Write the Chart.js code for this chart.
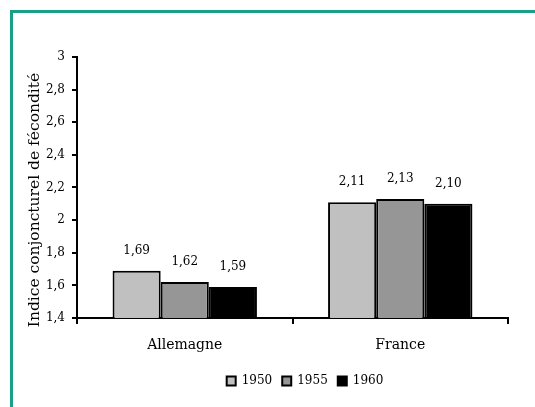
<!DOCTYPE html>
<html>
<head>
<meta charset="utf-8">
<script src="https://cdn.jsdelivr.net/npm/chart.js@4/dist/chart.umd.min.js"></script>
<style>
  html, body { margin: 0; padding: 0; background: #fff; }
  canvas { display: block; }
</style>
</head>
<body>
<canvas id="chart" width="535" height="407"></canvas>
<script>
// Données
const categories = ["Allemagne", "France"];
const years = ["1950", "1955", "1960"];
const values1950 = [1.69, 2.11];
const values1955 = [1.62, 2.13];
const values1960 = [1.59, 2.10];
const yTitle = "Indice conjoncturel de fécondité";

const FONT = "'DejaVu Serif', serif";

function fmt(v, digits) {
    return v.toFixed(digits).replace(".", ",");
}

// fond blanc + cadre vert + titre de l'axe + étiquettes des valeurs
const decorPlugin = {
    id: "decor",
    beforeDraw(chart) {
        const ctx = chart.ctx;
        ctx.save();
        ctx.fillStyle = "#fff";
        ctx.fillRect(0, 0, chart.width, chart.height);
        ctx.fillStyle = "#17a085";
        ctx.fillRect(10, 10, chart.width - 10, 3);
        ctx.fillRect(10, 10, 3, chart.height - 10);
        ctx.restore();
    },
    afterLayout(chart) {
        // légende décalée à droite comme sur l'original
        chart.legend.left += 51;
        chart.legend.right += 51;
    },
    afterDraw(chart) {
        const ctx = chart.ctx;
        ctx.save();
        ctx.fillStyle = "#000";
        ctx.font = "15.5px " + FONT;
        ctx.textAlign = "center";
        ctx.textBaseline = "middle";
        ctx.translate(35, 200);
        ctx.rotate(-Math.PI / 2);
        ctx.fillText(yTitle, 0, 0);
        ctx.restore();

        ctx.save();
        ctx.fillStyle = "#000";
        ctx.font = "12px " + FONT;
        ctx.textAlign = "center";
        ctx.textBaseline = "middle";
        chart.data.datasets.forEach((ds, i) => {
            const meta = chart.getDatasetMeta(i);
            meta.data.forEach((bar, j) => {
                ctx.fillText(fmt(ds.data[j], 2), bar.x, bar.y - 20);
            });
        });
        ctx.restore();
    }
};

const ctx = document.getElementById("chart").getContext("2d");

new Chart(ctx, {
    type: "bar",
    data: {
        labels: categories,
        datasets: [
            { label: years[0], data: values1950, backgroundColor: "#c0c0c0" },
            { label: years[1], data: values1955, backgroundColor: "#969696" },
            { label: years[2], data: values1960, backgroundColor: "#000000" },
        ].map((d) => Object.assign(d, {
            borderColor: "#000",
            borderWidth: 2,
            categoryPercentage: 0.67,
            barPercentage: 1.0,
        })),
    },
    options: {
        responsive: false,
        devicePixelRatio: 1,
        animation: false,
        layout: { padding: { top: 57, left: 0, right: 27, bottom: 10 } },
        plugins: {
            tooltip: { enabled: false },
            legend: {
                position: "bottom",
                labels: {
                    boxWidth: 9,
                    boxHeight: 9,
                    padding: 10,
                    color: "#000",
                    font: { family: FONT, size: 12 },
                },
            },
        },
        scales: {
            x: {
                afterFit: (scale) => { scale.height = 47; },
                grid: {
                    display: true,
                    drawOnChartArea: false,
                    drawTicks: true,
                    tickLength: 6,
                    color: "#000",
                    lineWidth: 2,
                    offset: true,
                },
                border: { color: "#000", width: 2 },
                ticks: {
                    color: "#000",
                    padding: 13,
                    maxRotation: 0,
                    font: { family: FONT, size: 14 },
                },
            },
            y: {
                min: 1.4,
                max: 3,
                afterFit: (scale) => { scale.width = 77; },
                grid: {
                    display: true,
                    drawOnChartArea: false,
                    drawTicks: true,
                    tickLength: 5,
                    color: "#000",
                    lineWidth: 2,
                },
                border: { color: "#000", width: 2 },
                ticks: {
                    stepSize: 0.2,
                    color: "#000",
                    padding: 7,
                    font: { family: FONT, size: 12 },
                    callback: (v) => String(Number(v.toFixed(1))).replace(".", ","),
                },
            },
        },
    },
    plugins: [decorPlugin],
});
</script>
</body>
</html>
